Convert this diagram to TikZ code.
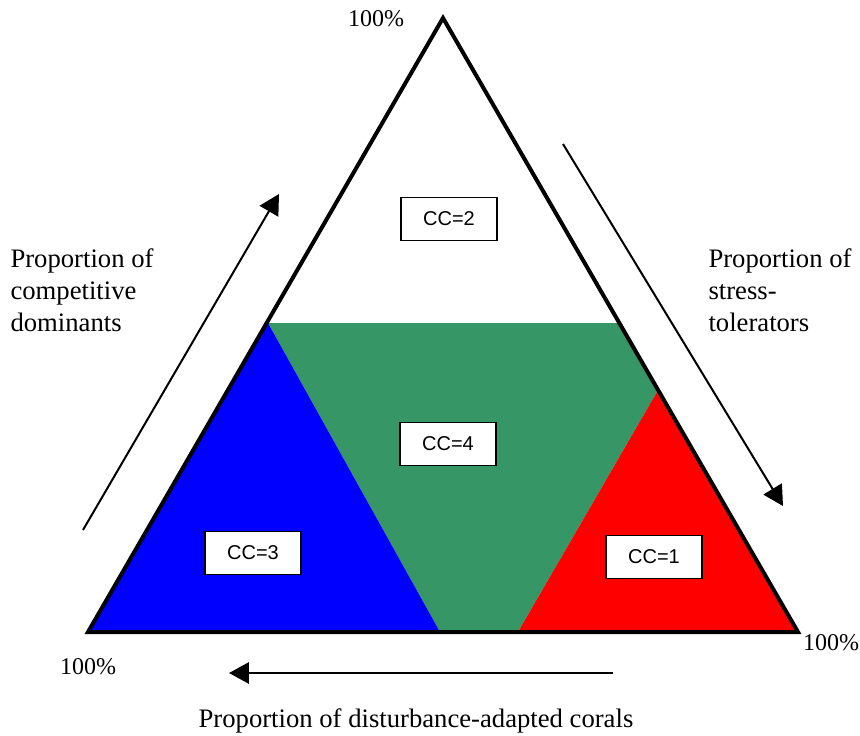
\documentclass[tikz,border=0pt]{standalone}
\usepackage{fontspec}
\setmainfont{Liberation Serif}
\setsansfont{Liberation Sans}
\usetikzlibrary{arrows.meta}
\usetikzlibrary{positioning}
\definecolor{ccblue}{RGB}{0,0,255}
\definecolor{ccgreen}{RGB}{54,150,102}
\definecolor{ccred}{RGB}{255,0,0}
\tikzstyle{ccbox} = [draw, fill=white, line width=0.6pt, font=\sffamily\fontsize{7.5}{9}\selectfont,
minimum width=36pt, minimum height=16pt, inner sep=0pt]
\tikzstyle{line} = [draw, line width=0.75pt, -{Triangle[length=7.5pt,width=8pt]}]
\tikzstyle{label} = [font=\fontsize{10}{12}\selectfont, inner sep=0pt]
\tikzstyle{pct} = [font=\fontsize{9}{11}\selectfont, inner sep=0pt]

\begin{document}
\begin{tikzpicture}[x=0.375pt, y=-0.375pt]
        \useasboundingbox (0,0) rectangle (860,735);
        %% Corners
        \coordinate (T) at (443,18);
        \coordinate (L) at (88,632);
        \coordinate (R) at (798,632);
        \coordinate (LM) at (268,323);
        \coordinate (RM) at (618,323);
        \coordinate (RR) at (657,392);
        \coordinate (BL) at (440,632);
        \coordinate (BR) at (518,632);
        %% Regions
        \fill [ccgreen] (LM) -- (RM) -- (RR) -- (BR) -- (BL) -- cycle;
        \fill [ccblue] (L) -- (LM) -- (BL) -- cycle;
        \fill [ccred] (RR) -- (R) -- (BR) -- cycle;
        \draw [line width=1.5pt, line join=miter] (T) -- (L) -- (R) -- cycle;
        %% Boxes
        \node [ccbox] at (449,219) (CC2) {CC=2};
        \node [ccbox] at (448,444) (CC4) {CC=4};
        \node [ccbox] at (253,553) (CC3) {CC=3};
        \node [ccbox] at (654,557) (CC1) {CC=1};
        %% Labels
        \node [pct] at (376,19) (TopPct) {100\%};
        \node [pct] at (88,667) (LeftPct) {100\%};
        \node [pct] at (831,643) (RightPct) {100\%};
        \node [label, align=left, anchor=north west] at (10,248) (CompText)
            {Proportion of\\competitive\\dominants};
        \node [label, align=left, anchor=north west] at (708,248) (StressText)
            {Proportion of\\stress-\\tolerators};
        \node [label] at (416,721) (DistText)
            {Proportion of disturbance-adapted corals};
        %% Arrows
        \coordinate (CompTail) at (83,530);
        \coordinate (CompHead) at (279,194);
        \coordinate (StressTail) at (563,144);
        \coordinate (StressHead) at (783,506);
        \coordinate (DistTail) at (613,673);
        \coordinate (DistHead) at (229,673);
        \path [line] (CompTail) to (CompHead);
        \path [line] (StressTail) to (StressHead);
        \path [line] (DistTail) to (DistHead);
    \end{tikzpicture}
\end{document}
